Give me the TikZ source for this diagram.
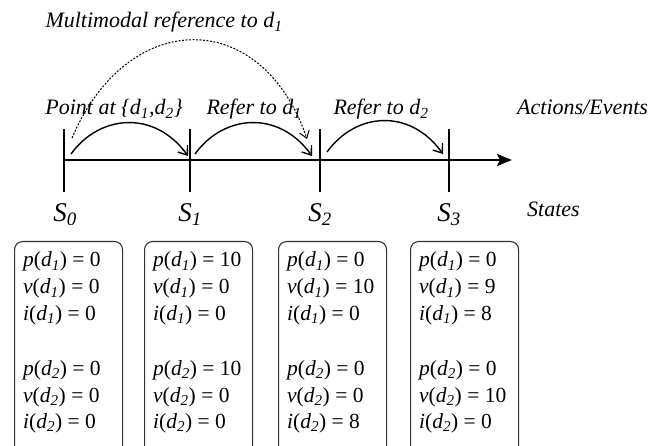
\documentclass[tikz,border=0pt]{standalone}
\usepackage{fontspec}
\setmainfont{Liberation Serif}
\usetikzlibrary{arrows.meta}
\newcommand\dv[2]{\textit{#1}(\textit{d}\textsubscript{\textit{#2}})}
\newcommand\dsub[1]{\textit{d}\textsubscript{\textit{#1}}}
\tikzset{
  lbl/.style={font=\fontsize{22}{26}\selectfont\itshape, inner sep=0pt, anchor=base},
  slbl/.style={font=\fontsize{27}{30}\selectfont\itshape, inner sep=0pt, anchor=base},
  val/.style={font=\fontsize{21.5}{26}\selectfont, inner sep=0pt, anchor=base west},
  statebox/.style={draw=black!80, line width=1.1pt, rounded corners=8pt, inner sep=0pt},
  tick/.style={line width=1.8pt},
  axis/.style={line width=1.8pt, -{Stealth[length=15pt,width=12pt,inset=3pt]}},
  hop/.style={line width=1.4pt, -{Straight Barb[length=8pt,width=12pt,line width=1.4pt]}},
  mm/.style={line width=1pt, dash pattern=on 2pt off 1.5pt, -{Straight Barb[length=7pt,width=10pt,line width=1pt]}},
}
\begin{document}
\begin{tikzpicture}[x=1pt,y=-1pt]
\clip (0,0) rectangle (653,446);
% axis
\coordinate (ax0) at (63,160);
\coordinate (ax1) at (512,160);
\draw[axis] (ax0) -- (ax1);
% ticks
\foreach \n/\x in {0/64,1/190,2/320,3/449}{
  \coordinate (t\n a) at (\x,129);
  \coordinate (t\n b) at (\x,192);
  \draw[tick] (t\n a) -- (t\n b);
}
% state labels
\node[slbl] (s0) at (65,222) {S\textsubscript{0}};
\node[slbl] (s1) at (190,222) {S\textsubscript{1}};
\node[slbl] (s2) at (320,222) {S\textsubscript{2}};
\node[slbl] (s3) at (449,222) {S\textsubscript{3}};
\node[lbl, anchor=base west] (states) at (527,217) {States};
\node[lbl, anchor=base west] (ae) at (517,115) {Actions/Events};
% action labels
\node[lbl] (pa) at (114,115) {Point at \{\dsub{1},\dsub{2}\}};
\node[lbl] (r1) at (254,115) {Refer to \dsub{1}};
\node[lbl] (r2) at (381,115) {Refer to \dsub{2}};
\node[lbl] (mm) at (164,28) {Multimodal reference to \dsub{1}};
% hop arcs
\coordinate (h0s) at (71,154); \coordinate (h0e) at (188,156);
\coordinate (h1s) at (195,154); \coordinate (h1e) at (312,156);
\coordinate (h2s) at (327,152); \coordinate (h2e) at (443,154);
\draw[hop] (h0s) .. controls (100,114) and (155,110) .. (h0e);
\draw[hop] (h1s) .. controls (224,114) and (279,110) .. (h1e);
\draw[hop] (h2s) .. controls (356,112) and (410,108) .. (h2e);
% multimodal arc
\coordinate (ms) at (72,138); \coordinate (me) at (307,139);
\draw[mm] (ms) .. controls (128,7) and (262,7) .. (me);
% boxes
\foreach \n/\x in {0/14,1/144,2/278,3/410}{
  \node[statebox, anchor=north west, minimum width=108pt, minimum height=212pt] (b\n) at (\x,241) {};
}
% values
\newcommand\vals[7]{%
  \node[val] (#1pa) at ([xshift=9pt,yshift=-26pt]#1.north west) {\dv{p}{1} = #2};
  \node[val] (#1va) at ([xshift=9pt,yshift=-53pt]#1.north west) {\dv{v}{1} = #3};
  \node[val] (#1ia) at ([xshift=9pt,yshift=-79pt]#1.north west) {\dv{i}{1} = #4};
  \node[val] (#1pb) at ([xshift=9pt,yshift=-134pt]#1.north west) {\dv{p}{2} = #5};
  \node[val] (#1vb) at ([xshift=9pt,yshift=-161pt]#1.north west) {\dv{v}{2} = #6};
  \node[val] (#1ib) at ([xshift=9pt,yshift=-187pt]#1.north west) {\dv{i}{2} = #7};
}
\vals{b0}{0}{0}{0}{0}{0}{0}
\vals{b1}{10}{0}{0}{10}{0}{0}
\vals{b2}{0}{10}{0}{0}{0}{8}
\vals{b3}{0}{9}{8}{0}{10}{0}
\end{tikzpicture}
\end{document}
